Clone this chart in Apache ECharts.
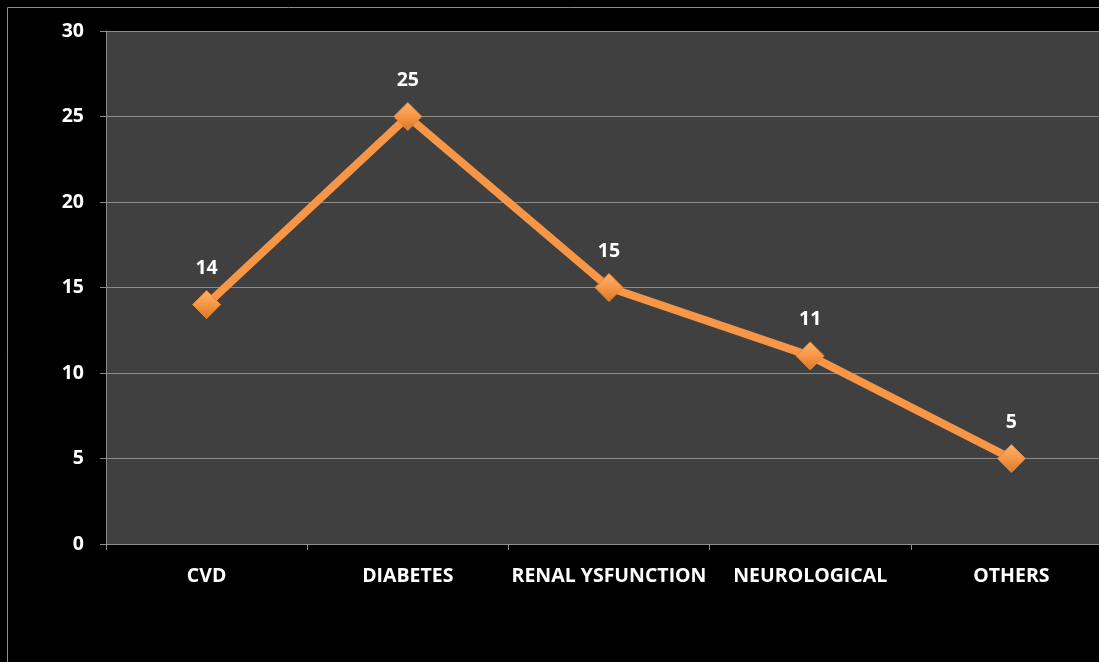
<!DOCTYPE html>
<html>
<head>
<meta charset="utf-8">
<script src="https://cdn.jsdelivr.net/npm/echarts@6/dist/echarts.min.js"></script>
<style>
html,body{margin:0;padding:0;background:#000;overflow:hidden;width:1099px;height:662px;}
#c{width:1130px;height:700px;}
</style>
</head>
<body>
<div id="c"></div>
<script>
var categories = ['CVD', 'DIABETES', 'RENAL YSFUNCTION', 'NEUROLOGICAL', 'OTHERS'];
var values = [14, 25, 15, 11, 5];
var yTicks = [0, 5, 10, 15, 20, 25, 30];

var chart = echarts.init(document.getElementById('c'));
var font = '"Open Sans", "Liberation Sans", sans-serif';
chart.setOption({
  backgroundColor: '#000',
  animation: false,
  graphic: [{
    type: 'rect',
    shape: {x: 7.5, y: 7.5, width: 1200, height: 800},
    style: {fill: 'none', stroke: '#8c8c8c', lineWidth: 1},
    silent: true, z: -1
  }],
  grid: {
    left: 106, top: 31, width: 1006, height: 513,
    show: true, backgroundColor: '#404040', borderWidth: 0
  },
  xAxis: {
    type: 'category',
    data: categories,
    boundaryGap: true,
    axisLine: {show: true, lineStyle: {color: '#8c8c8c', width: 1}},
    axisTick: {show: true, length: 6, lineStyle: {color: '#8c8c8c'}},
    axisLabel: {color: '#fff', fontWeight: 'bold', fontSize: 19.5, fontFamily: font, margin: 22, interval: 0}
  },
  yAxis: {
    type: 'value',
    min: yTicks[0], max: yTicks[yTicks.length - 1], interval: 5,
    axisLine: {show: true, lineStyle: {color: '#8c8c8c', width: 1}},
    axisTick: {show: true, length: 6, lineStyle: {color: '#8c8c8c'}},
    splitLine: {show: true, lineStyle: {color: '#8c8c8c', width: 1}},
    axisLabel: {color: '#fff', fontWeight: 'bold', fontSize: 19.5, fontFamily: font, margin: 22}
  },
  series: [{
    type: 'line',
    data: values,
    symbol: 'diamond',
    symbolSize: 28,
    lineStyle: {color: '#F79646', width: 8},
    itemStyle: {
      color: new echarts.graphic.LinearGradient(0, 0, 0, 1, [
        {offset: 0, color: '#FBB46E'},
        {offset: 0.5, color: '#F79646'},
        {offset: 1, color: '#D9772A'}
      ]),
      borderColor: '#E8852F', borderWidth: 1
    },
    label: {
      show: true, position: 'top', distance: 12,
      color: '#fff', fontWeight: 'bold', fontSize: 19.5, fontFamily: font
    },
    z: 3
  }]
});
</script>
</body>
</html>
